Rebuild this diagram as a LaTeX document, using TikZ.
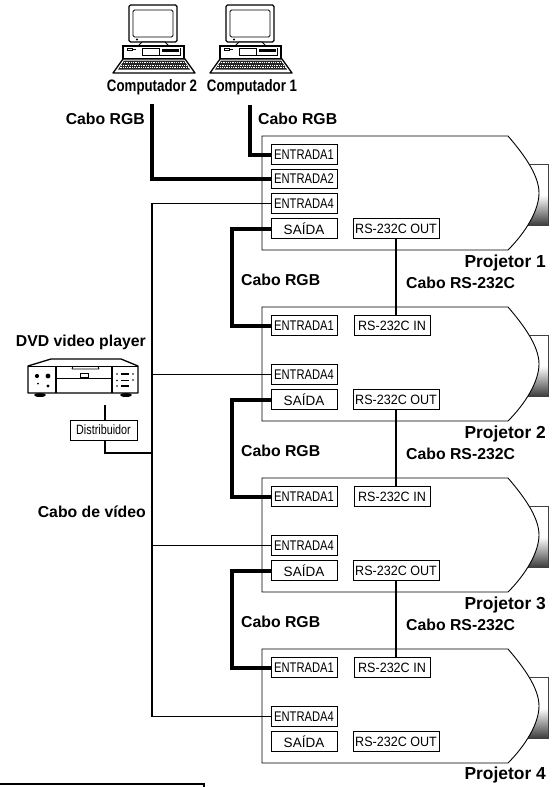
\documentclass[tikz,border=0pt]{standalone}
\usepackage{fontspec}
\setmainfont{Liberation Sans}
\newfontfamily\stretchfont[FakeStretch=0.8]{Liberation Sans}
\newfontfamily\portfont[FakeStretch=0.93]{Liberation Sans}
\usetikzlibrary{positioning}
\definecolor{lensdark}{RGB}{60,60,60}

\tikzset{
  computador/.pic={
    \draw[line width=1.3, rounded corners=1.5, fill=white] (16,5) rectangle (64,42);
    \draw[line width=.9, rounded corners=1.5] (20,10) rectangle (60,37);
    \fill (24,39.5) circle (1.2);
    \draw[line width=1, fill=white] (29,42) -- (52,42) -- (56,46) -- (25,46) -- cycle;
    \draw[line width=1.3, fill=white] (10,46) rectangle (71,59);
    \draw[line width=.7] (14,48.5) rectangle (19,50.5);
    \fill (20,49) rectangle (23,50);
    \draw[line width=.9] (29,48) rectangle (46,55);
    \draw[line width=.9] (46,48) -- (46,55) -- (67,55) -- (67,48);
    \fill (49,49) rectangle (66,52);
    \draw[line width=1.3, fill=white, line join=round] (10,59) -- (72,59) -- (82,73) -- (0,73) -- cycle;
    \fill[black!85] (11,60.5) -- (71,60.5) -- (77,69.5) -- (5,69.5) -- cycle;
    \draw[white, line width=.6, dash pattern=on .9 off .9] (9,62.5) -- (73,62.5);
    \draw[white, line width=.6, dash pattern=on .9 off .9] (8,64.8) -- (74.5,64.8);
    \draw[white, line width=.6, dash pattern=on .9 off .9] (6.5,67.2) -- (76,67.2);
  },
  dvdplayer/.pic={
    \fill (12,36) ellipse (6 and 2);
    \fill (98,36) ellipse (6 and 2);
    \draw[line width=1.3, fill=white, line join=round] (0,7) -- (23,0) -- (93,0) -- (110,7) -- (110,34) -- (0,34) -- cycle;
    \draw[line width=.9] (0,7) -- (110,7);
    \draw[line width=1.2] (28,7) -- (28,34) (84,7) -- (84,34);
    \draw[line width=.9] (28,19.5) -- (84,19.5);
    \draw[line width=.8] (44,10) -- (71,10) (45,7) -- (44,10) (70,7) -- (71,10);
    \draw[line width=.8] (52,14) rectangle (60,18);
    \fill (9,17) circle (2.1);
    \fill (20,17) circle (2.4);
    \fill (10,24.5) circle (1);
    \fill (20,27) circle (1.7);
    \fill (89,15) circle (.9) (105,15) circle (.9);
    \fill (89,21.5) circle (.9) (105,21) circle (.9);
    \fill (89,27) circle (.9);
    \fill (93,14.3) rectangle (101,15.7);
    \fill (93,20.8) rectangle (101,22.2);
    \fill (93,26.3) rectangle (101,27.7);
  },
  projetor/.pic={
    \shade[top color=white, bottom color=lensdark] (260,59) rectangle (286,89);
    \draw[line width=1, black!75] (260,28) -- (286,28) -- (286,89) -- (260,89);
    \draw[line width=.9, fill=white] (0,0) -- (246,0) .. controls (265,22) and (277,41) .. (277,57)
      .. controls (277,74) and (264,96) .. (246,114) -- (0,114) -- cycle;
  },
  entrada/.style={draw, fill=white, line width=.9, inner sep=0, minimum width=66, minimum height=19.5, font=\stretchfont\fontsize{14}{16}\selectfont},
  rsbox/.style={draw, fill=white, line width=.9, inner sep=0, minimum width=86, minimum height=19.5, font=\portfont\fontsize{13.5}{16}\selectfont},
  rotulo/.style={inner sep=0, font=\bfseries\fontsize{15.8}{18}\selectfont},
  nomepc/.style={inner sep=0, font=\bfseries\stretchfont\fontsize{16.6}{18}\selectfont},
  nomeproj/.style={inner sep=0, anchor=east, font=\bfseries\fontsize{17.4}{18}\selectfont},
  cabogrosso/.style={line width=4},
  cabofino/.style={line width=1.4},
}

\begin{document}
\begin{tikzpicture}[x=1pt, y=-1pt]
\clip (0,0) rectangle (556,787);
\path[fill=white] (0,0) rectangle (556,787);

% computers
\pic at (113,0) {computador};
\pic at (210,0) {computador};
\node[nomepc] (nc2) at (152,87) {Computador 2};
\node[nomepc] (nc1) at (252,87) {Computador 1};

% projectors
\pic at (262,136) {projetor};
\pic at (262,307) {projetor};
\pic at (262,478) {projetor};
\pic at (262,649) {projetor};

\node[entrada] (p1e1) at (304,154.5) {ENTRADA1};
\node[entrada] (p1e2) at (304,179) {ENTRADA2};
\node[entrada] (p1e4) at (304,203.5) {ENTRADA4};
\node[entrada, font=\fontsize{13.5}{16}\selectfont] (p1s) at (304,228.5) {SAÍDA};
\node[rsbox] (p1o) at (396,228.5) {RS-232C OUT};

\node[entrada] (p2e1) at (304,325.5) {ENTRADA1};
\node[rsbox, minimum width=76] (p2i) at (392,325.5) {RS-232C IN};
\node[entrada] (p2e4) at (304,374.5) {ENTRADA4};
\node[entrada, font=\fontsize{13.5}{16}\selectfont] (p2s) at (304,399.5) {SAÍDA};
\node[rsbox] (p2o) at (396,399.5) {RS-232C OUT};

\node[entrada] (p3e1) at (304,496.5) {ENTRADA1};
\node[rsbox, minimum width=76] (p3i) at (392,496.5) {RS-232C IN};
\node[entrada] (p3e4) at (304,545.5) {ENTRADA4};
\node[entrada, font=\fontsize{13.5}{16}\selectfont] (p3s) at (304,570.5) {SAÍDA};
\node[rsbox] (p3o) at (396,570.5) {RS-232C OUT};

\node[entrada] (p4e1) at (304,667.5) {ENTRADA1};
\node[rsbox, minimum width=76] (p4i) at (392,667.5) {RS-232C IN};
\node[entrada] (p4e4) at (304,716.5) {ENTRADA4};
\node[entrada, font=\fontsize{13.5}{16}\selectfont] (p4s) at (304,741.5) {SAÍDA};
\node[rsbox] (p4o) at (396,741.5) {RS-232C OUT};

\node[nomeproj] (n1) at (546,263) {Projetor 1};
\node[nomeproj] (n2) at (546,434) {Projetor 2};
\node[nomeproj] (n3) at (546,605) {Projetor 3};
\node[nomeproj] (n4) at (546,775) {Projetor 4};

% DVD and distributor
\node[rotulo, anchor=east] (ndvd) at (146,342) {DVD video player};
\pic at (28,359) {dvdplayer};
\node[draw, fill=white, line width=.7, inner sep=0, minimum width=67, minimum height=20,
  font=\stretchfont\fontsize{13.5}{16}\selectfont] (dist) at (103.5,430) {Distribuidor};
\node[rotulo, anchor=east] (nvid) at (146,512) {Cabo de vídeo};

% free cable ends
\coordinate (c2) at (152,104);
\coordinate (c1) at (250,105);
\coordinate (d0) at (105,405);
\coordinate (v0) at (152,453);
\coordinate (v4) at (152,716.5);

% RGB cables
\draw[cabogrosso] (c1) |- (p1e1);
\draw[cabogrosso] (c2) |- (p1e2);
\draw[cabogrosso] (p1s.west) -- ++(-39,0) |- (p2e1.west);
\draw[cabogrosso] (p2s.west) -- ++(-39,0) |- (p3e1.west);
\draw[cabogrosso] (p3s.west) -- ++(-39,0) |- (p4e1.west);
\node[rotulo, anchor=east] (l1) at (145,119) {Cabo RGB};
\node[rotulo, anchor=west] (l2) at (258,119) {Cabo RGB};
\node[rotulo, anchor=west] (l3) at (241,280) {Cabo RGB};
\node[rotulo, anchor=west] (l4) at (241,451) {Cabo RGB};
\node[rotulo, anchor=west] (l5) at (241,622) {Cabo RGB};

% video cables
\draw[cabofino] (p1e4.west) -| (v4) -- (p4e4.west);
\draw[cabofino] (p2e4.west) -- (p2e4.west -| v4);
\draw[cabofino] (p3e4.west) -- (p3e4.west -| v4);
\draw[cabofino] (d0) -- (dist.north -| d0);
\draw[cabofino] (dist.south -| d0) |- (v0);

% serial cables
\draw[cabofino] (p1o) -- (p1o |- p2i.north);
\draw[cabofino] (p2o) -- (p2o |- p3i.north);
\draw[cabofino] (p3o) -- (p3o |- p4i.north);
\node[rotulo, anchor=west] (r1) at (406,283) {Cabo RS-232C};
\node[rotulo, anchor=west] (r2) at (406,454) {Cabo RS-232C};
\node[rotulo, anchor=west] (r3) at (406,625) {Cabo RS-232C};

% frame cut by the page edge
\node[draw, line width=2, inner sep=0, minimum width=214, minimum height=30] (nota) at (97,799) {};
\end{tikzpicture}
\end{document}
